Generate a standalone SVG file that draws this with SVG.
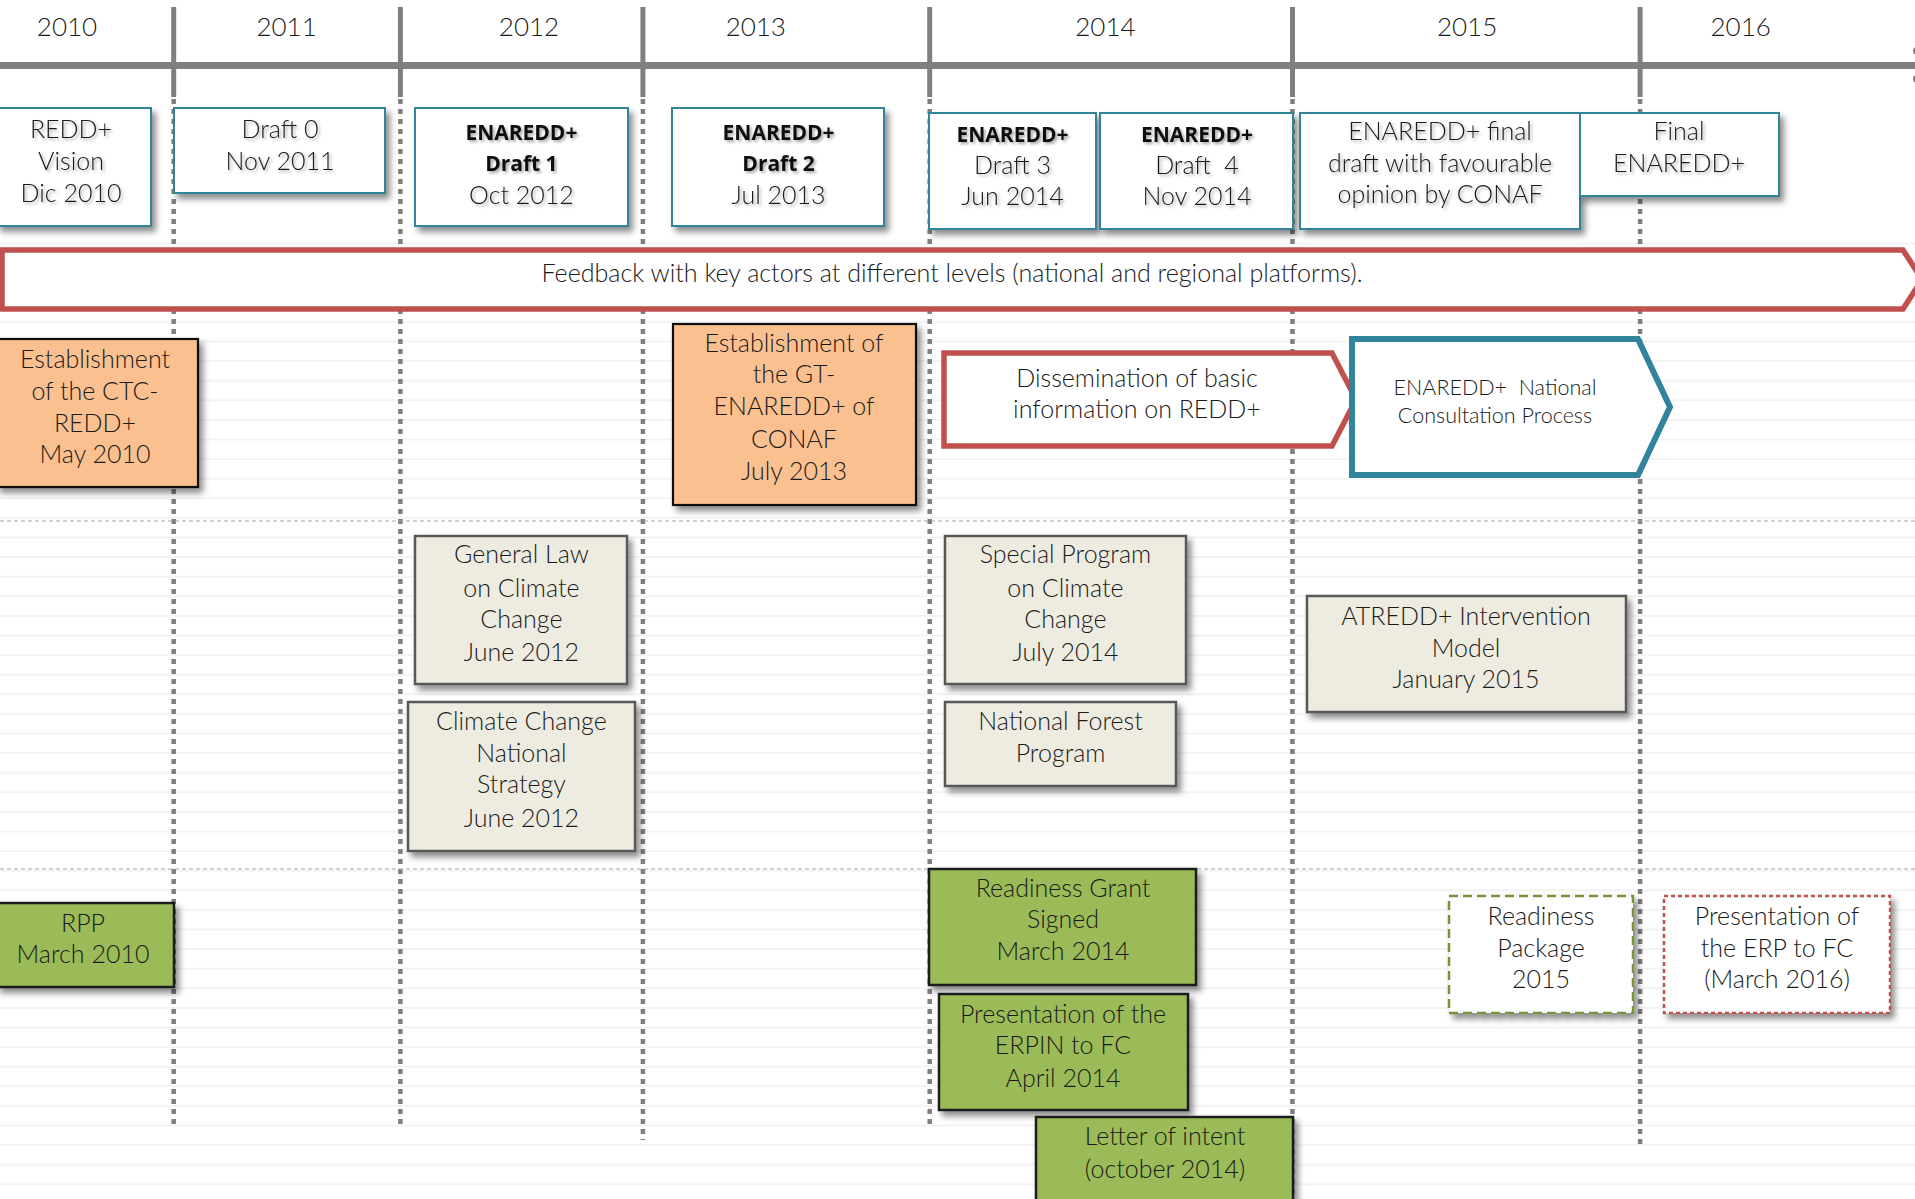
<svg xmlns="http://www.w3.org/2000/svg" width="1915" height="1199" viewBox="0 0 1915 1199">
<style>
.t{font-family:"Lato","Open Sans","Liberation Sans",sans-serif;font-weight:300;font-size:25px;fill:#1a1a1a;text-anchor:middle}
.b{font-family:"Open Sans","Noto Sans","Liberation Sans",sans-serif;font-weight:700;font-size:21px;fill:#0d0d0d}
.yr{font-family:"Lato","Open Sans","Liberation Sans",sans-serif;font-weight:300;font-size:26px;fill:#1a1a1a;text-anchor:middle}
.sm{font-size:21.5px}
.top{fill:#fff;stroke:#31849b;stroke-width:2}
.org{fill:#fac090;stroke:#111;stroke-width:2.2}
.gry{fill:#eeece1;stroke:#595959;stroke-width:2.5}
.grn{fill:#9bbb59;stroke:#1a1a1a;stroke-width:2.5}
.solid{stroke:#7f7f7f;stroke-width:5}
.dot{stroke:#7f7f7f;stroke-width:4.5;stroke-dasharray:5 5}
.sep{stroke:#a6a6a6;stroke-width:1.2;stroke-dasharray:4 3}
</style>
<defs>
<filter id="sh" x="-10%" y="-10%" width="130%" height="135%">
<feDropShadow dx="4" dy="5" stdDeviation="3" flood-color="#000" flood-opacity="0.45"/>
</filter>
<filter id="ts" x="-10%" y="-30%" width="130%" height="170%">
<feDropShadow dx="2" dy="2" stdDeviation="1.5" flood-color="#000" flood-opacity="0.35"/>
</filter>
<pattern id="stripes" patternUnits="userSpaceOnUse" width="1915" height="19.6" y="7.3">
<rect x="0" y="0" width="1915" height="2" fill="#f3f3f3"/>
</pattern>
</defs>
<rect x="0" y="0" width="1915" height="1199" fill="#fff"/>
<rect x="0" y="236" width="1915" height="963" fill="url(#stripes)"/>

<g id="timeline">
<rect x="0" y="62" width="1915" height="7" fill="#808080"/>
<circle cx="1917" cy="51" r="4" fill="#808080"/>
<circle cx="1917" cy="79" r="4" fill="#808080"/>
<g class="solid">
<line x1="173.7" y1="7" x2="173.7" y2="97"/>
<line x1="400.4" y1="7" x2="400.4" y2="97"/>
<line x1="642.9" y1="7" x2="642.9" y2="97"/>
<line x1="929.7" y1="7" x2="929.7" y2="97"/>
<line x1="1292.5" y1="7" x2="1292.5" y2="97"/>
<line x1="1640.1" y1="7" x2="1640.1" y2="97"/>
</g>
<g class="yr">
<text x="67" y="36">2010</text>
<text x="286.6" y="36">2011</text>
<text x="529" y="36">2012</text>
<text x="755.8" y="36">2013</text>
<text x="1105.4" y="36">2014</text>
<text x="1467.1" y="36">2015</text>
<text x="1740.7" y="36">2016</text>
</g>
</g>

<g id="connectors">
<g class="dot">
<line x1="173.7" y1="99" x2="173.7" y2="1128"/>
<line x1="400.4" y1="99" x2="400.4" y2="1128"/>
<line x1="642.9" y1="99" x2="642.9" y2="1140"/>
<line x1="929.7" y1="99" x2="929.7" y2="1128"/>
<line x1="1292.5" y1="99" x2="1292.5" y2="1199"/>
<line x1="1640.1" y1="99" x2="1640.1" y2="1148"/>
</g>
<line class="sep" x1="0" y1="521" x2="1915" y2="521"/>
<line class="sep" x1="0" y1="869" x2="1915" y2="869"/>
</g>

<g id="redd-vision">
<rect class="top" x="-3" y="108" width="154" height="118" filter="url(#sh)"/>
<text class="t" filter="url(#ts)"><tspan x="71" y="138">REDD+</tspan><tspan x="71" y="170">Vision</tspan><tspan x="71" y="202">Dic 2010</tspan></text>
</g>
<g id="draft0">
<rect class="top" x="174" y="108" width="211" height="85" filter="url(#sh)"/>
<text class="t" filter="url(#ts)"><tspan x="280" y="138">Draft 0</tspan><tspan x="280" y="170">Nov 2011</tspan></text>
</g>
<g id="draft1">
<rect class="top" x="415" y="108" width="213" height="118" filter="url(#sh)"/>
<text class="t" filter="url(#ts)"><tspan class="b" x="521.4" y="140">ENAREDD+</tspan><tspan class="b" x="521.4" y="171">Draft 1</tspan><tspan x="521.4" y="204">Oct 2012</tspan></text>
</g>
<g id="draft2">
<rect class="top" x="672" y="108" width="212" height="118" filter="url(#sh)"/>
<text class="t" filter="url(#ts)"><tspan class="b" x="778.6" y="140">ENAREDD+</tspan><tspan class="b" x="778.6" y="171">Draft 2</tspan><tspan x="778.6" y="204">Jul 2013</tspan></text>
</g>
<g id="draft3">
<rect class="top" x="929" y="113" width="167" height="116" filter="url(#sh)"/>
<text class="t" filter="url(#ts)"><tspan class="b" x="1012.5" y="142">ENAREDD+</tspan><tspan x="1012.5" y="174">Draft 3</tspan><tspan x="1012.5" y="205">Jun 2014</tspan></text>
</g>
<g id="draft4">
<rect class="top" x="1100" y="113" width="193" height="116" filter="url(#sh)"/>
<text class="t" filter="url(#ts)"><tspan class="b" x="1197" y="142">ENAREDD+</tspan><tspan x="1197" y="174" xml:space="preserve">Draft  4</tspan><tspan x="1197" y="205">Nov 2014</tspan></text>
</g>
<g id="final-draft">
<rect class="top" x="1300" y="113" width="280" height="116" filter="url(#sh)"/>
<text class="t" filter="url(#ts)"><tspan x="1440" y="140">ENAREDD+ final</tspan><tspan x="1440" y="172">draft with favourable</tspan><tspan x="1440" y="203">opinion by CONAF</tspan></text>
</g>
<g id="final">
<rect class="top" x="1580" y="113" width="199" height="83" filter="url(#sh)"/>
<text class="t" filter="url(#ts)"><tspan x="1679" y="140">Final</tspan><tspan x="1679" y="172">ENAREDD+</tspan></text>
</g>

<g id="feedback">
<polygon points="2,250 1903,250 1922,279.5 1903,309 2,309" fill="#fff" stroke="#c0504d" stroke-width="5.5"/>
<text class="t" x="952" y="282" textLength="821" lengthAdjust="spacingAndGlyphs">Feedback with key actors at different levels (national and regional platforms).</text>
</g>

<g id="ctc">
<rect class="org" x="-3" y="339" width="201" height="148" filter="url(#sh)"/>
<text class="t"><tspan x="95" y="368">Establishment</tspan><tspan x="95" y="400">of the CTC-</tspan><tspan x="95" y="432">REDD+</tspan><tspan x="95" y="463">May 2010</tspan></text>
</g>
<g id="gt-enaredd">
<rect class="org" x="673" y="324" width="243" height="181" filter="url(#sh)"/>
<text class="t"><tspan x="794" y="352">Establishment of</tspan><tspan x="794" y="383">the GT-</tspan><tspan x="794" y="415">ENAREDD+ of</tspan><tspan x="794" y="448">CONAF</tspan><tspan x="794" y="480">July 2013</tspan></text>
</g>
<g id="dissemination">
<polygon points="944,353 1332,353 1356,399.5 1332,446 944,446" fill="#fff" stroke="#c0504d" stroke-width="5.5"/>
<text class="t"><tspan x="1137" y="387">Dissemination of basic</tspan><tspan x="1137" y="418">information on REDD+</tspan></text>
</g>
<g id="consultation">
<polygon points="1352,339 1638,339 1670,407 1638,475 1352,475" fill="#fff" stroke="#31849b" stroke-width="6"/>
<text class="t sm"><tspan x="1495" y="395" xml:space="preserve">ENAREDD+  National</tspan><tspan x="1495" y="423">Consultation Process</tspan></text>
</g>

<g id="general-law">
<rect class="gry" x="415" y="536" width="212" height="148" filter="url(#sh)"/>
<text class="t"><tspan x="521.4" y="563">General Law</tspan><tspan x="521.4" y="597">on Climate</tspan><tspan x="521.4" y="628">Change</tspan><tspan x="521.4" y="661">June 2012</tspan></text>
</g>
<g id="cc-strategy">
<rect class="gry" x="408" y="702" width="227" height="149" filter="url(#sh)"/>
<text class="t"><tspan x="521.4" y="730">Climate Change</tspan><tspan x="521.4" y="762">National</tspan><tspan x="521.4" y="793">Strategy</tspan><tspan x="521.4" y="827">June 2012</tspan></text>
</g>
<g id="special-program">
<rect class="gry" x="945" y="536" width="241" height="148" filter="url(#sh)"/>
<text class="t"><tspan x="1065.4" y="563">Special Program</tspan><tspan x="1065.4" y="597">on Climate</tspan><tspan x="1065.4" y="628">Change</tspan><tspan x="1065.4" y="661">July 2014</tspan></text>
</g>
<g id="forest-program">
<rect class="gry" x="945" y="702" width="231" height="84" filter="url(#sh)"/>
<text class="t"><tspan x="1060.6" y="730">National Forest</tspan><tspan x="1060.6" y="762">Program</tspan></text>
</g>
<g id="atredd">
<rect class="gry" x="1307" y="596" width="319" height="116" filter="url(#sh)"/>
<text class="t"><tspan x="1466" y="625">ATREDD+ Intervention</tspan><tspan x="1466" y="657">Model</tspan><tspan x="1466" y="688">January 2015</tspan></text>
</g>

<g id="rpp">
<rect class="grn" x="-3" y="903" width="177" height="84" filter="url(#sh)"/>
<text class="t"><tspan x="83" y="932">RPP</tspan><tspan x="83" y="963">March 2010</tspan></text>
</g>
<g id="readiness-grant">
<rect class="grn" x="929" y="869" width="267" height="116" filter="url(#sh)"/>
<text class="t"><tspan x="1063" y="897">Readiness Grant</tspan><tspan x="1063" y="928">Signed</tspan><tspan x="1063" y="960">March 2014</tspan></text>
</g>
<g id="erpin">
<rect class="grn" x="939" y="994" width="249" height="116" filter="url(#sh)"/>
<text class="t"><tspan x="1063" y="1023">Presentation of the</tspan><tspan x="1063" y="1054">ERPIN to FC</tspan><tspan x="1063" y="1087">April 2014</tspan></text>
</g>
<g id="letter-of-intent">
<rect class="grn" x="1036" y="1117" width="257" height="100" filter="url(#sh)"/>
<text class="t"><tspan x="1165" y="1145">Letter of intent</tspan><tspan x="1165" y="1178">(october 2014)</tspan></text>
</g>
<g id="readiness-package">
<rect x="1449" y="896" width="184" height="117" fill="#fff" stroke="#77933c" stroke-width="2.5" stroke-dasharray="9 5" filter="url(#sh)"/>
<text class="t"><tspan x="1541" y="925">Readiness</tspan><tspan x="1541" y="957">Package</tspan><tspan x="1541" y="988">2015</tspan></text>
</g>
<g id="erp">
<rect x="1664" y="896" width="226" height="117" fill="#fff" stroke="#c0504d" stroke-width="2.5" stroke-dasharray="4 3" filter="url(#sh)"/>
<text class="t"><tspan x="1777" y="925">Presentation of</tspan><tspan x="1777" y="957">the ERP to FC</tspan><tspan x="1777" y="988">(March 2016)</tspan></text>
</g>
</svg>
